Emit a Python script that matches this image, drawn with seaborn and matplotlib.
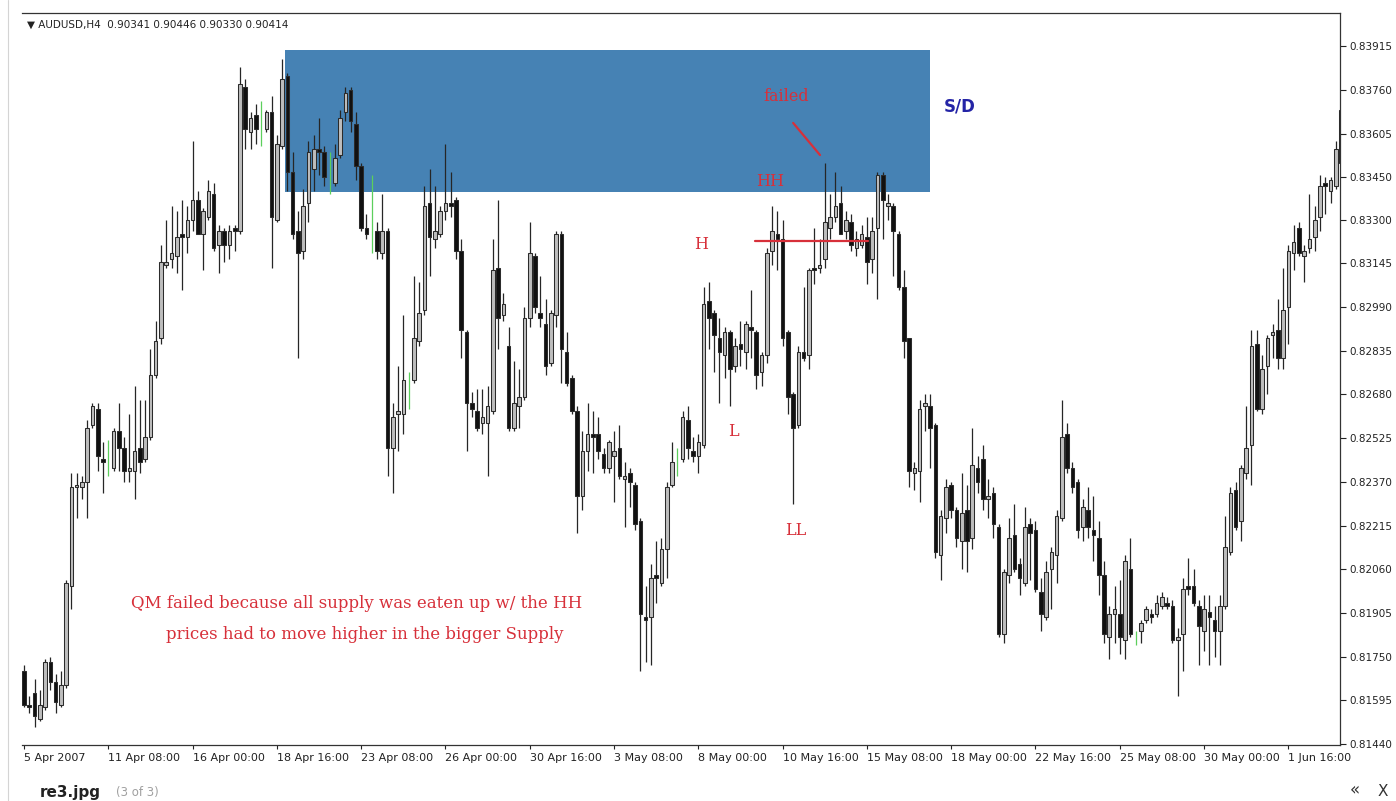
import numpy as np
import pandas as pd
import matplotlib
matplotlib.use("Agg")
import matplotlib.pyplot as plt
from matplotlib.patches import Rectangle
from matplotlib.lines import Line2D
import seaborn as sns

# AUDUSD H4 candles, prices in pips (1 pip = 0.0001)
opens = [
    8170, 8158, 8162, 8153, 8157, 8173, 8166, 8158, 8165, 8200,
    8235, 8235, 8237, 8257, 8263, 8245, 8246, 8242, 8255, 8249,
    8241, 8241, 8249, 8245, 8253, 8275, 8288, 8314, 8316, 8317,
    8325, 8324, 8330, 8337, 8325, 8331, 8339, 8321, 8326, 8321,
    8327, 8326, 8377, 8361, 8367, 8365, 8362, 8368, 8330, 8356,
    8381, 8347, 8326, 8319, 8336, 8348, 8355, 8354, 8348, 8343,
    8353, 8368, 8376, 8364, 8349, 8327, 8330, 8326, 8318, 8326,
    8249, 8261, 8261, 8270, 8273, 8287, 8298, 8336, 8323, 8325,
    8333, 8336, 8337, 8319, 8290, 8265, 8262, 8258, 8258, 8262,
    8313, 8296, 8285, 8256, 8264, 8267, 8295, 8317, 8297, 8293,
    8279, 8296, 8325, 8283, 8274, 8262, 8232, 8248, 8254, 8254,
    8247, 8242, 8246, 8249, 8238, 8240, 8236, 8223, 8189, 8189,
    8204, 8201, 8213, 8236, 8245, 8245, 8259, 8248, 8246, 8250,
    8301, 8297, 8288, 8282, 8290, 8278, 8286, 8283, 8292, 8290,
    8276, 8282, 8319, 8325, 8323, 8290, 8268, 8257, 8283, 8282,
    8313, 8313, 8316, 8327, 8331, 8336, 8326, 8329, 8320, 8321,
    8324, 8316, 8327, 8346, 8335, 8335, 8325, 8306, 8288, 8240,
    8241, 8264, 8264, 8257, 8211, 8224, 8236, 8227, 8216, 8227,
    8217, 8242, 8245, 8231, 8233, 8221, 8183, 8204, 8218, 8208,
    8201, 8222, 8220, 8198, 8189, 8206, 8211, 8224, 8254, 8242,
    8237, 8221, 8227, 8220, 8217, 8204, 8182, 8190, 8190, 8181,
    8206, 8182, 8184, 8188, 8190, 8190, 8193, 8194, 8193, 8181,
    8183, 8200, 8200, 8193, 8184, 8191, 8188, 8184, 8193, 8212,
    8234, 8223, 8240, 8250, 8286, 8263, 8278, 8289, 8291, 8281,
    8299, 8318, 8327, 8317, 8320, 8324, 8331, 8343, 8340, 8342,
    8350,
]
highs = [
    8172, 8161, 8167, 8163, 8174, 8175, 8169, 8170, 8202, 8240,
    8240, 8239, 8259, 8265, 8265, 8251, 8252, 8256, 8265, 8253,
    8261, 8271, 8266, 8266, 8284, 8294, 8321, 8330, 8335, 8333,
    8337, 8335, 8358, 8340, 8334, 8344, 8343, 8328, 8327, 8328,
    8328, 8384, 8380, 8368, 8371, 8372, 8369, 8374, 8360, 8387,
    8382, 8354, 8333, 8341, 8358, 8360, 8366, 8356, 8354, 8357,
    8369, 8377, 8377, 8368, 8350, 8332, 8346, 8329, 8339, 8327,
    8265, 8278, 8296, 8276, 8310, 8308, 8342, 8348, 8342, 8335,
    8357, 8347, 8338, 8323, 8291, 8269, 8270, 8270, 8271, 8323,
    8337, 8304, 8292, 8280, 8277, 8299, 8329, 8318, 8310, 8302,
    8298, 8326, 8326, 8290, 8275, 8264, 8255, 8265, 8262, 8260,
    8249, 8252, 8255, 8257, 8244, 8242, 8237, 8224, 8200, 8208,
    8216, 8217, 8237, 8251, 8249, 8262, 8264, 8253, 8254, 8306,
    8308, 8298, 8295, 8292, 8291, 8288, 8294, 8294, 8305, 8291,
    8283, 8320, 8335, 8333, 8330, 8291, 8269, 8285, 8306, 8313,
    8327, 8323, 8350, 8339, 8347, 8342, 8333, 8332, 8326, 8328,
    8331, 8331, 8347, 8347, 8339, 8336, 8326, 8312, 8288, 8244,
    8266, 8268, 8268, 8258, 8227, 8238, 8237, 8228, 8240, 8236,
    8256, 8246, 8250, 8238, 8235, 8222, 8206, 8224, 8229, 8210,
    8228, 8224, 8223, 8203, 8209, 8214, 8227, 8266, 8258, 8244,
    8238, 8231, 8235, 8232, 8223, 8209, 8193, 8200, 8202, 8211,
    8217, 8184, 8188, 8193, 8192, 8197, 8198, 8196, 8195, 8185,
    8203, 8210, 8206, 8195, 8197, 8197, 8193, 8197, 8225, 8235,
    8237, 8243, 8264, 8291, 8291, 8282, 8289, 8293, 8302, 8313,
    8321, 8328, 8329, 8321, 8339, 8335, 8346, 8345, 8345, 8358,
    8371,
]
lows = [
    8157, 8155, 8150, 8152, 8156, 8163, 8155, 8157, 8164, 8192,
    8224, 8231, 8224, 8256, 8241, 8233, 8239, 8241, 8241, 8237,
    8237, 8231, 8240, 8244, 8252, 8274, 8286, 8313, 8313, 8311,
    8305, 8318, 8326, 8325, 8312, 8330, 8319, 8311, 8315, 8316,
    8319, 8325, 8355, 8355, 8357, 8356, 8361, 8313, 8329, 8355,
    8340, 8323, 8281, 8316, 8329, 8340, 8346, 8342, 8339, 8342,
    8352, 8365, 8361, 8344, 8326, 8323, 8318, 8316, 8316, 8239,
    8233, 8248, 8254, 8263, 8272, 8285, 8296, 8310, 8320, 8324,
    8330, 8331, 8316, 8281, 8248, 8260, 8255, 8254, 8239, 8261,
    8284, 8294, 8255, 8255, 8256, 8266, 8292, 8297, 8292, 8275,
    8278, 8292, 8272, 8271, 8261, 8219, 8227, 8241, 8240, 8245,
    8240, 8240, 8230, 8238, 8221, 8228, 8220, 8170, 8173, 8172,
    8194, 8200, 8203, 8235, 8239, 8244, 8245, 8244, 8240, 8249,
    8284, 8276, 8265, 8274, 8264, 8276, 8278, 8277, 8281, 8270,
    8271, 8279, 8314, 8312, 8285, 8261, 8229, 8256, 8280, 8277,
    8307, 8311, 8313, 8323, 8329, 8325, 8323, 8319, 8317, 8320,
    8307, 8311, 8302, 8323, 8330, 8310, 8305, 8281, 8235, 8234,
    8230, 8255, 8242, 8210, 8202, 8219, 8224, 8214, 8206, 8205,
    8213, 8233, 8227, 8224, 8217, 8182, 8180, 8201, 8205, 8197,
    8200, 8202, 8198, 8184, 8188, 8192, 8201, 8223, 8240, 8233,
    8217, 8216, 8217, 8209, 8197, 8180, 8174, 8180, 8176, 8174,
    8182, 8179, 8180, 8187, 8187, 8189, 8192, 8192, 8180, 8161,
    8170, 8197, 8193, 8172, 8177, 8172, 8175, 8172, 8192, 8211,
    8220, 8216, 8238, 8236, 8262, 8261, 8268, 8281, 8277, 8277,
    8286, 8312, 8317, 8308, 8318, 8319, 8326, 8332, 8336, 8341,
    8348,
]
closes = [
    8158, 8157, 8154, 8158, 8173, 8166, 8159, 8165, 8201, 8235,
    8236, 8237, 8256, 8264, 8246, 8244, 8246, 8255, 8249, 8241,
    8242, 8248, 8244, 8253, 8275, 8287, 8315, 8315, 8318, 8324,
    8324, 8330, 8337, 8325, 8333, 8340, 8320, 8326, 8321, 8326,
    8326, 8378, 8362, 8366, 8362, 8365, 8368, 8331, 8357, 8380,
    8347, 8325, 8318, 8335, 8354, 8355, 8354, 8345, 8348, 8352,
    8366, 8375, 8365, 8349, 8327, 8325, 8330, 8319, 8326, 8249,
    8260, 8262, 8273, 8270, 8288, 8297, 8335, 8324, 8326, 8333,
    8336, 8335, 8319, 8291, 8265, 8263, 8256, 8260, 8264, 8312,
    8295, 8300, 8256, 8265, 8267, 8295, 8318, 8299, 8295, 8278,
    8297, 8325, 8284, 8272, 8262, 8232, 8248, 8254, 8253, 8248,
    8242, 8251, 8248, 8239, 8239, 8237, 8222, 8190, 8188, 8203,
    8203, 8213, 8235, 8244, 8245, 8260, 8249, 8246, 8251, 8300,
    8295, 8289, 8283, 8290, 8277, 8285, 8284, 8293, 8291, 8275,
    8282, 8318, 8326, 8323, 8288, 8267, 8256, 8283, 8281, 8312,
    8312, 8314, 8329, 8331, 8335, 8325, 8330, 8321, 8323, 8325,
    8315, 8326, 8346, 8337, 8336, 8326, 8306, 8287, 8241, 8242,
    8263, 8265, 8256, 8212, 8225, 8235, 8227, 8217, 8226, 8216,
    8243, 8237, 8231, 8232, 8222, 8183, 8205, 8217, 8206, 8203,
    8221, 8219, 8199, 8190, 8205, 8212, 8225, 8253, 8242, 8235,
    8220, 8228, 8221, 8218, 8204, 8183, 8190, 8192, 8182, 8209,
    8183, 8182, 8187, 8192, 8189, 8194, 8196, 8193, 8181, 8182,
    8199, 8199, 8194, 8186, 8192, 8189, 8184, 8193, 8214, 8233,
    8221, 8242, 8249, 8285, 8263, 8277, 8288, 8290, 8281, 8298,
    8319, 8322, 8318, 8319, 8323, 8330, 8342, 8342, 8344, 8355,
    8369,
]

date_labels = ["5 Apr 2007", "11 Apr 08:00", "16 Apr 00:00", "18 Apr 16:00",
               "23 Apr 08:00", "26 Apr 00:00", "30 Apr 16:00", "3 May 08:00",
               "8 May 00:00", "10 May 16:00", "15 May 08:00", "18 May 00:00",
               "22 May 16:00", "25 May 08:00", "30 May 00:00", "1 Jun 16:00"]
price_ticks = [0.81440, 0.81595, 0.81750, 0.81905, 0.82060, 0.82215, 0.82370,
               0.82525, 0.82680, 0.82835, 0.82990, 0.83145, 0.83300, 0.83450,
               0.83605, 0.83760, 0.83915]

# supply / demand zone and the "H" level
zone_start, zone_end = 49.6, 172.0
zone_low, zone_high = 0.83398, 0.83902
h_start, h_end, h_level = 138.8, 160.2, 0.83224

sns.set_theme(style="white")
plt.rcParams['font.family'] = ['DejaVu Sans']

df = pd.DataFrame({"open": opens, "high": highs, "low": lows, "close": closes}) / 10000.0
df["bar"] = np.arange(len(df))
doji = df["open"] == df["close"]
bull = df["close"] > df["open"]

red = "#d7303a"

fig = plt.figure(figsize=(13.96, 8.01), dpi=100)
fig.patch.set_facecolor("white")
ax = fig.add_axes([22 / 1396, 56 / 801, 1318 / 1396, 732 / 801])
ax.set_facecolor("white")

ax.add_patch(Rectangle((zone_start, zone_low), zone_end - zone_start, zone_high - zone_low,
                       facecolor="#4682b4", edgecolor="none", zorder=1))

wick_colors = np.where(doji, "#5ccf5c", "#262626")
ax.vlines(df["bar"], df["low"], df["high"], colors=wick_colors, linewidth=0.9, zorder=2)

body = df[~doji]
ax.bar(body["bar"], (body["close"] - body["open"]).abs(),
       bottom=body[["open", "close"]].min(axis=1), width=0.68,
       color=np.where(bull[~doji], "#bdbdbd", "#111111"),
       edgecolor="#2b2b2b", linewidth=0.75, zorder=3)

# annotations
ax.plot([h_start, h_end], [h_level, h_level], color=red, lw=1.6, zorder=4)
ax.plot([146.0, 151.1], [0.83643, 0.83529], color=red, lw=1.6, zorder=4)
serif = dict(color=red, family="DejaVu Serif", ha="center", va="center", zorder=5)
ax.text(144.6, 0.83735, "failed", fontsize=11.5, **serif)
ax.text(141.6, 0.83437, "HH", fontsize=11.5, **serif)
ax.text(128.5, 0.83210, "H", fontsize=11.5, **serif)
ax.text(134.6, 0.82550, "L", fontsize=11.5, **serif)
ax.text(146.5, 0.82199, "LL", fontsize=11.5, **serif)
ax.text(63.2, 0.81937, "QM failed because all supply was eaten up w/ the HH", fontsize=12, **serif)
ax.text(64.7, 0.81830, "prices had to move higher in the bigger Supply", fontsize=12, **serif)
ax.text(177.7, 0.83700, "S/D", color="#2424a6", fontsize=12, fontweight="bold",
        ha="center", va="center", zorder=5)

ax.set_xlim(-0.38, 249.8)
ax.set_ylim(0.814365, 0.840329)

ax.set_xticks(np.arange(0, 16 * len(date_labels), 16))
ax.set_xticklabels(date_labels, ha="left")
ax.set_yticks(price_ticks)
ax.set_yticklabels([f"{p:.5f}" for p in price_ticks])
ax.yaxis.tick_right()
ax.tick_params(axis="x", bottom=True, direction="out", length=3, width=0.8,
               labelsize=8, pad=3, colors="#222222")
ax.tick_params(axis="y", right=True, left=False, labelright=True, labelleft=False,
               direction="out", length=4, width=0.8, labelsize=7.5, pad=3, colors="#222222")
for side in ["top", "right", "bottom"]:
    ax.spines[side].set_color("#333333")
    ax.spines[side].set_linewidth(0.9)
ax.spines["left"].set_visible(False)
ax.grid(False)

fig.text(27 / 1396, 1 - 25 / 801, "\u25bc AUDUSD,H4  0.90341 0.90446 0.90330 0.90414",
         fontsize=7.5, va="center", color="#222222")
fig.add_artist(Line2D([8 / 1396, 8 / 1396], [0, 1], color="#d4d4d4", lw=0.8))
fig.text(40 / 1396, 1 - 800 / 801, "re3.jpg", fontsize=11, fontweight="bold",
         va="bottom", color="#222222")
fig.text(116 / 1396, 1 - 799 / 801, "(3 of 3)", fontsize=8.5, va="bottom", color="#a0a0a0")
fig.text(1350 / 1396, 1 - 799 / 801, "\u00ab", fontsize=12, va="bottom", color="#333333")
fig.text(1378 / 1396, 1 - 799 / 801, "X", fontsize=11, va="bottom", color="#333333")

fig.savefig("out.png", dpi=100, facecolor="white")
